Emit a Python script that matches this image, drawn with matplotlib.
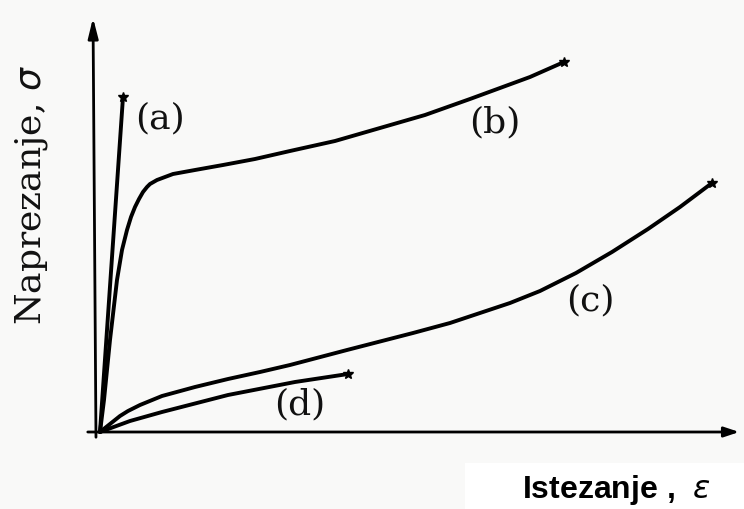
import matplotlib.pyplot as plt
from matplotlib.patches import Rectangle

# očitane točke krivulja (istezanje, naprezanje) u proizvoljnim jedinicama
strain_a = [0.0, 0.23]
stress_a = [0.0, 3.35]

strain_b = [0.0, 0.04, 0.10, 0.17, 0.22, 0.27, 0.31, 0.35, 0.39, 0.43, 0.47, 0.50, 0.57, 0.65, 0.73, 0.95, 1.23, 1.55, 1.90, 2.35, 2.80, 3.25, 3.70, 4.30, 4.64]
stress_b = [0.0, 0.32, 0.92, 1.52, 1.82, 2.02, 2.15, 2.25, 2.33, 2.40, 2.45, 2.48, 2.52, 2.55, 2.58, 2.62, 2.67, 2.73, 2.81, 2.91, 3.04, 3.17, 3.33, 3.55, 3.70]

strain_c = [0.0, 0.10, 0.20, 0.28, 0.40, 0.62, 0.95, 1.28, 1.60, 1.90, 2.47, 3.13, 3.50, 3.80, 4.10, 4.40, 4.76, 5.12, 5.48, 5.80, 6.12]
stress_c = [0.0, 0.08, 0.16, 0.21, 0.27, 0.36, 0.45, 0.53, 0.60, 0.67, 0.82, 0.99, 1.09, 1.19, 1.29, 1.41, 1.59, 1.80, 2.03, 2.25, 2.49]

strain_d = [0.0, 0.30, 0.62, 1.28, 1.95, 2.48]
stress_d = [0.0, 0.11, 0.20, 0.37, 0.50, 0.58]

labels = ['(a)', '(b)', '(c)', '(d)']
label_pos = [(0.60, 3.14), (3.95, 3.10), (4.90, 1.32), (2.00, 0.28)]

fig = plt.figure(figsize=(7.44, 5.09), dpi=100)
fig.patch.set_facecolor('#f9f9f8')
ax = fig.add_axes([0, 0, 1, 1])
ax.set_facecolor('#f9f9f8')
ax.set_xlim(-1.0, 6.44)
ax.set_ylim(-0.77, 4.32)
ax.axis('off')

# bijelo polje iza oznake x osi
ax.add_patch(Rectangle((0.625, 0.0), 0.375, 0.09, transform=ax.transAxes,
                       facecolor='white', edgecolor='none', zorder=0))

# osi sa strelicama
ax.annotate('', xy=(6.42, 0.0), xytext=(-0.15, 0.0),
            arrowprops=dict(arrowstyle='-|>,head_length=0.9,head_width=0.3', lw=2, color='black'))
ax.annotate('', xy=(-0.07, 4.17), xytext=(-0.04, -0.08),
            arrowprops=dict(arrowstyle='-|>,head_length=1.2,head_width=0.3', lw=2, color='black'))

for sx, sy in [(strain_a, stress_a), (strain_b, stress_b), (strain_c, stress_c), (strain_d, stress_d)]:
    ax.plot(sx, sy, color='black', lw=2.8, solid_capstyle='round', solid_joinstyle='round',
            marker='*', markevery=[len(sx) - 1], ms=7)

for txt, (x, y) in zip(labels, label_pos):
    ax.text(x, y, txt, family='DejaVu Serif', fontsize=26, ha='center', va='center', color='#111111')

ax.text(-0.68, 2.37, 'Naprezanje, $\\sigma$', family='DejaVu Serif', fontsize=26,
        rotation=90, ha='center', va='center', color='#111111')
ax.text(4.22, -0.58, 'Istezanje ,  $\\varepsilon$', family='Liberation Sans', fontweight='bold',
        fontsize=23, ha='left', va='center', color='black')

fig.savefig('out.png', dpi=100, facecolor=fig.get_facecolor())
